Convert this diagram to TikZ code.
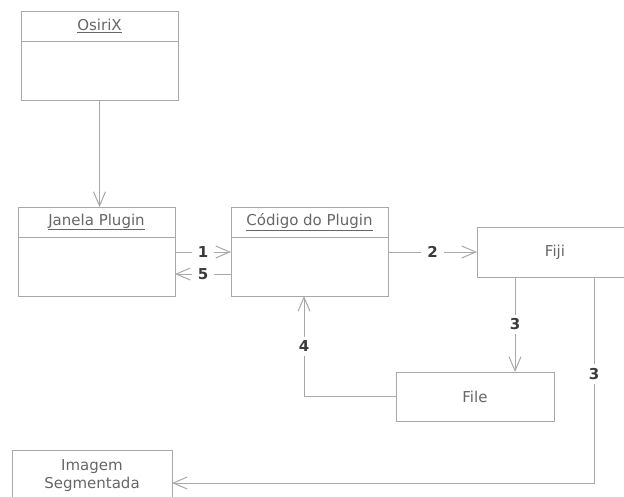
\documentclass[tikz,border=0pt]{standalone}
\usepackage{fontspec}
\setmainfont{DejaVu Sans}
\usetikzlibrary{arrows.meta,positioning}
\definecolor{linegray}{HTML}{A8A8A8}
\definecolor{textgray}{HTML}{666666}
\definecolor{numgray}{HTML}{3A3A3A}

\begin{document}
\begin{tikzpicture}[x=1pt,y=-1pt,>={Straight Barb[length=14pt,width=12pt]},
                    line width=1pt,font=\fontsize{15}{18}\selectfont,
                    title/.style={draw=linegray,text=textgray,minimum width=157pt,minimum height=30pt,inner sep=0pt,outer sep=0pt},
                    body/.style={draw=linegray,minimum width=157pt,minimum height=59pt,inner sep=0pt,outer sep=0pt},
                    box/.style={draw=linegray,text=textgray,minimum width=158pt,minimum height=50pt,inner sep=0pt,outer sep=0pt,align=center},
                    conn/.style={draw=linegray,->},
                    num/.style={fill=white,text=numgray,font=\fontsize{15}{18}\selectfont\bfseries,inner xsep=6pt,inner ysep=4pt}]
\clip (0,0) rectangle (624,496);

\node[title,anchor=north west] (osirix) at (21,11) {\underline{OsiriX}};
\node[body,below=0pt of osirix] (osirixbody) {};
\node[title,anchor=north west] (janela) at (18,207) {\underline{Janela Plugin}};
\node[body,below=0pt of janela] (janelabody) {};
\node[title,anchor=north west] (codigo) at (231,207) {\underline{Código do Plugin}};
\node[body,below=0pt of codigo] (codigobody) {};

\node[box,anchor=north west,minimum width=156pt] (fiji) at (477,227) {Fiji};
\node[box,anchor=north west,minimum height=49pt] (file) at (396,372) {File};
\node[box,anchor=north west,minimum width=160pt,minimum height=52pt] (imagem) at (12,450) {Imagem\\Segmentada};

\path[every edge/.style=conn]
  (osirixbody.south) edge (osirixbody.south |- janela.north)
  ([yshift=14.5pt]janelabody.east) edge node[num] {1} ([yshift=14.5pt]codigobody.west)
  ([yshift=-7.5pt]codigobody.west) edge node[num] {5} ([yshift=-7.5pt]janelabody.east)
  ([yshift=14.5pt]codigobody.east) edge node[num] {2} ([yshift=14.5pt]codigobody.east -| fiji.west)
  ([xshift=-40pt]fiji.south) edge node[num] {3} ([xshift=-40pt]fiji.south |- file.north);

\draw[conn] (file.west) -| node[num,pos=0.75] {4} ([xshift=-5.5pt]codigobody.south);
\draw[conn] ([xshift=39pt]fiji.south) |- node[num,pos=0.235] {3} ([yshift=-7pt]imagem.east);

\end{tikzpicture}
\end{document}
